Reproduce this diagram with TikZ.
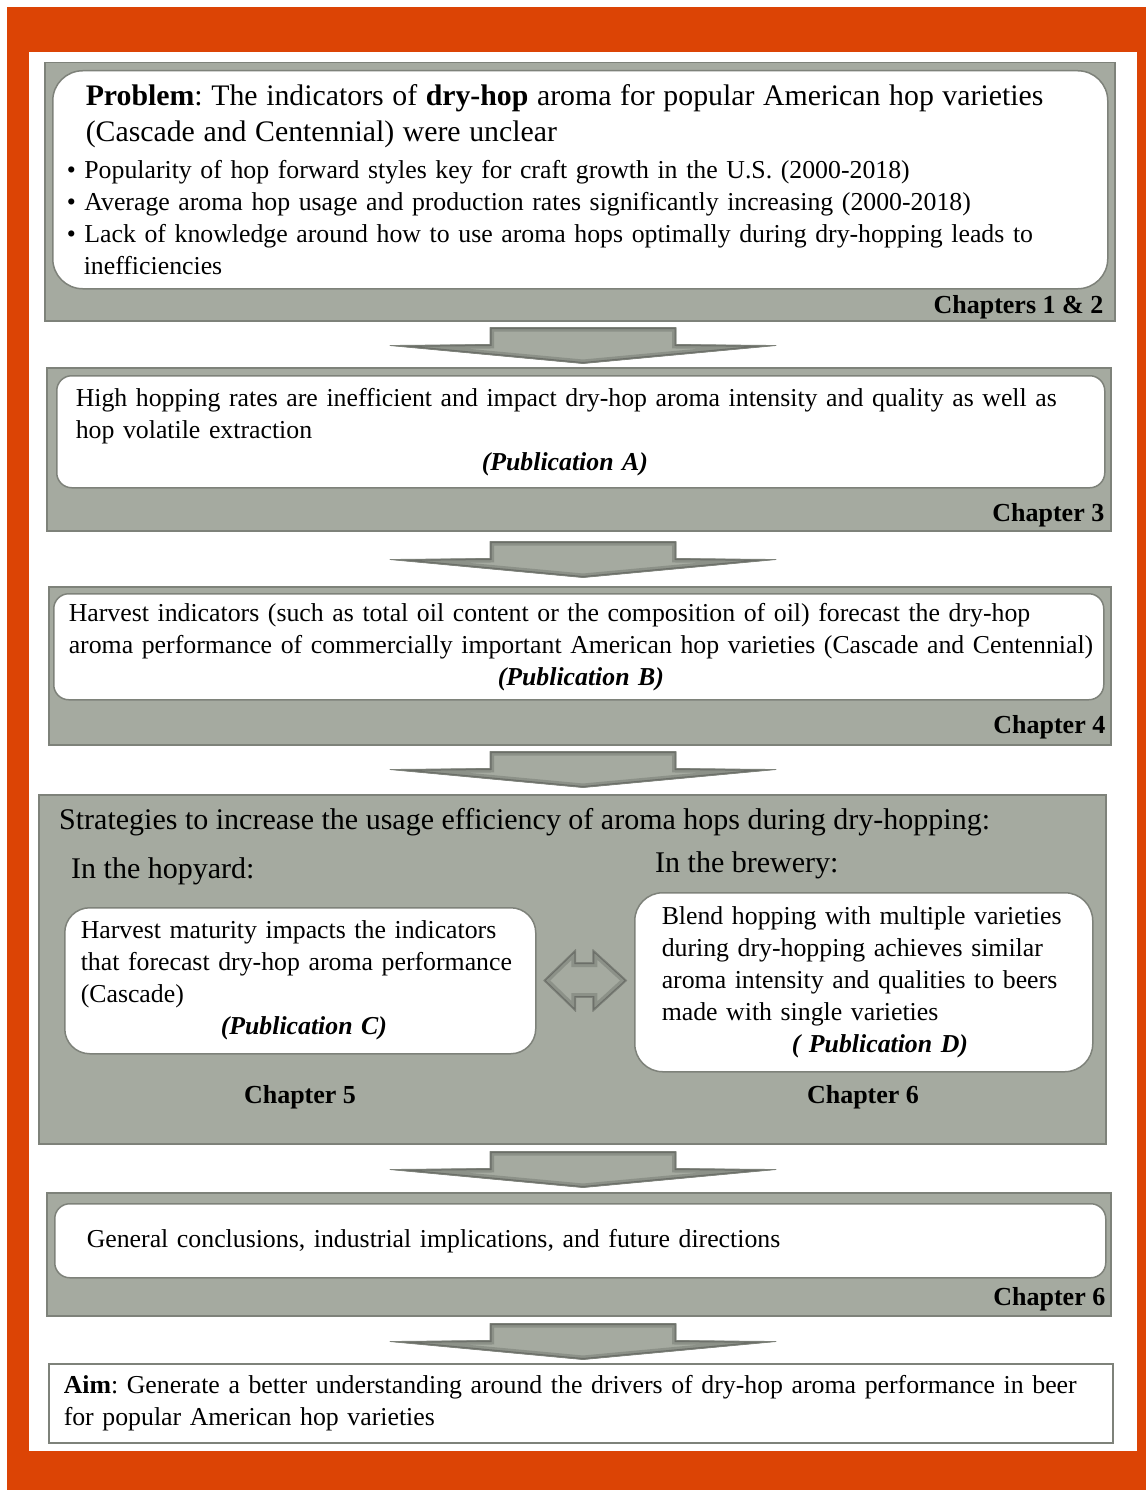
\documentclass[tikz,border=0pt]{standalone}
\usepackage{fontspec}
\setmainfont{Liberation Serif}
\usetikzlibrary{positioning,calc}

\definecolor{hoporange}{HTML}{DC4405}
\definecolor{hopgray}{HTML}{A5AAA0}
\definecolor{hopline}{HTML}{7E827A}

\newcommand{\bodyfont}{\fontsize{25.8}{32}\selectfont}
\newcommand{\titlefont}{\fontsize{29.8}{36}\selectfont}
\newcommand{\pubtag}[1]{\textbf{\textit{#1}}}
\newcommand{\downpath}{(-93,0) -- (93,0) -- (93,17) -- (193,18) -- (0,36) -- (-193,18) -- (-93,17) -- cycle}
\newcommand{\swappath}{(-41.5,0) -- (-9.5,-31) -- (-9.5,-18) -- (7.5,-18) -- (7.5,-31) -- (41.5,0)
        -- (7.5,31) -- (7.5,17) -- (-9.5,17) -- (-9.5,31) -- cycle}
\frenchspacing

\begin{document}
\begin{tikzpicture}[
    x=1pt, y=-1pt,
    panel/.style={rectangle, draw=hopline, fill=hopgray, line width=1.5pt, anchor=north west, inner sep=0pt},
    card/.style={rectangle, rounded corners=#1, draw=hopline, fill=white, line width=1.5pt, anchor=north west, align=left, inner ysep=0pt, font=\bodyfont},
    card/.default=15pt,
    chapter/.style={anchor=east, inner sep=0pt, font=\fontsize{26}{30}\selectfont\bfseries},
    heading/.style={anchor=west, inner sep=0pt, font=\fontsize{30}{34}\selectfont},
    flowedge/.style={draw=hopline, line width=0.8pt, line join=round},
    pics/downflow/.style={code={
        \fill[hopgray] \downpath;
        \begin{scope}
            \clip \downpath;
            \draw[line width=8pt, hopgray!85!black] \downpath;
            \draw[line width=3pt, hopgray!65!black] \downpath;
        \end{scope}
        \draw[flowedge] \downpath;
    }},
    pics/swapflow/.style={code={
        \fill[hopgray] \swappath;
        \begin{scope}
            \clip \swappath;
            \draw[line width=9pt, hopgray!85!black] \swappath;
            \draw[line width=3pt, hopgray!65!black] \swappath;
        \end{scope}
        \draw[flowedge] \swappath;
    }}
]

% Frame
\useasboundingbox (0,0) rectangle (1146,1490);
\fill[hoporange] (7,7) rectangle (1146,1490);
\fill[white] (29,52) rectangle (1137,1451);

% Problem
\node[panel, minimum width=1070pt, minimum height=258pt] (problem) at (44,62) {};
\node[card=30pt, text width=1027pt, inner xsep=14pt, minimum height=218pt] (problemtext) at (52,70) {
    \hspace*{19pt}{\titlefont\textbf{Problem}: The indicators of \textbf{dry-hop} aroma for popular American hop varieties}\\[4pt]
    \hspace*{19pt}{\titlefont (Cascade and Centennial) were unclear}\\[5pt]
    \textbullet~Popularity of hop forward styles key for craft growth in the U.S. (2000-2018)\\
    \textbullet~Average aroma hop usage and production rates significantly increasing (2000-2018)\\
    \textbullet~Lack of knowledge around how to use aroma hops optimally during dry-hopping leads to\\
    \hspace*{17pt}inefficiencies};
\node[chapter] (ch12) at ([xshift=-12pt,yshift=14pt]problem.south east) {Chapters 1 \& 2};

% Hopping rates
\node[panel, minimum width=1064pt, minimum height=163pt] (hopping) at (46,367) {};
\node[card, text width=1010pt, inner xsep=19pt, minimum height=112pt] (hoppingtext) at (56,375) {
    High hopping rates are inefficient and impact dry-hop aroma intensity and quality as well as\\
    hop volatile extraction\\
    \hspace*{406pt}\pubtag{(Publication A)}};
\node[chapter] (ch3) at ([xshift=-7pt,yshift=16pt]hopping.south east) {Chapter 3};

% Harvest indicators
\node[panel, minimum width=1062pt, minimum height=158pt] (harvest) at (48,586) {};
\node[card, text width=1020pt, inner xsep=15pt, minimum height=106pt] (harvesttext) at (53,593) {
    \mbox{Harvest indicators (such as total oil content or the composition of oil) forecast the dry-hop}\\
    \mbox{aroma performance of commercially important American hop varieties (Cascade and Centennial)}\\
    \hspace*{429pt}\pubtag{(Publication B)}};
\node[chapter] (ch4) at ([xshift=-6pt,yshift=18pt]harvest.south east) {Chapter 4};

% Strategies
\node[panel, minimum width=1067pt, minimum height=349pt] (strategies) at (38,794) {};
\node[heading] (stratitle) at (59,822) {Strategies to increase the usage efficiency of aroma hops during dry-hopping:};
\node[heading] (hopyard) at (71,871) {In the hopyard:};
\node[heading] (brewery) at (655,865) {In the brewery:};
\node[card=25pt, text width=439pt, inner xsep=16pt, minimum height=146pt] (maturity) at (64,907) {
    \mbox{Harvest maturity impacts the indicators}\\
    \mbox{that forecast dry-hop aroma performance}\\
    (Cascade)\\
    \hspace*{140pt}\pubtag{(Publication C)}};
\node[card=28pt, text width=404pt, inner xsep=27pt, minimum height=179pt] (blend) at (634,892) {
    \mbox{Blend hopping with multiple varieties}\\
    \mbox{during dry-hopping achieves similar}\\
    \mbox{aroma intensity and qualities to beers}\\
    made with single varieties\\
    \hspace*{130pt}\pubtag{( Publication D)}};
\node[chapter, anchor=center] (ch5) at (300,1097) {Chapter 5};
\node[chapter, anchor=center] (ch6a) at (863,1097) {Chapter 6};

% Two-way link between the two strategies
\coordinate (swap) at ($(maturity.east)!0.5!(blend.west)$);
\pic at ([yshift=1pt]swap) {swapflow};

% Conclusions
\node[panel, minimum width=1064pt, minimum height=123pt] (general) at (46,1192) {};
\node[card, text width=987pt, inner xsep=32pt, minimum height=74pt] (generaltext) at (54,1203) {
    General conclusions, industrial implications, and future directions};
\node[chapter] (ch6b) at ([xshift=-6pt,yshift=17pt]general.south east) {Chapter 6};

% Aim
\node[card=0pt, text width=1034pt, inner xsep=15pt, minimum height=79pt] (aim) at (48,1363) {
    \textbf{Aim}: Generate a better understanding around the drivers of dry-hop aroma performance in beer\\
    for popular American hop varieties};

% Flow arrows
\pic at ($(583,0 |- problem.south)+(0,6)$) {downflow};
\pic at ($(583,0 |- hopping.south)+(0,10)$) {downflow};
\pic at ($(583,0 |- harvest.south)+(0,6)$) {downflow};
\pic at ($(583,0 |- strategies.south)+(0,7)$) {downflow};
\pic at ($(583,0 |- general.south)+(0,7)$) {downflow};

\end{tikzpicture}
\end{document}
